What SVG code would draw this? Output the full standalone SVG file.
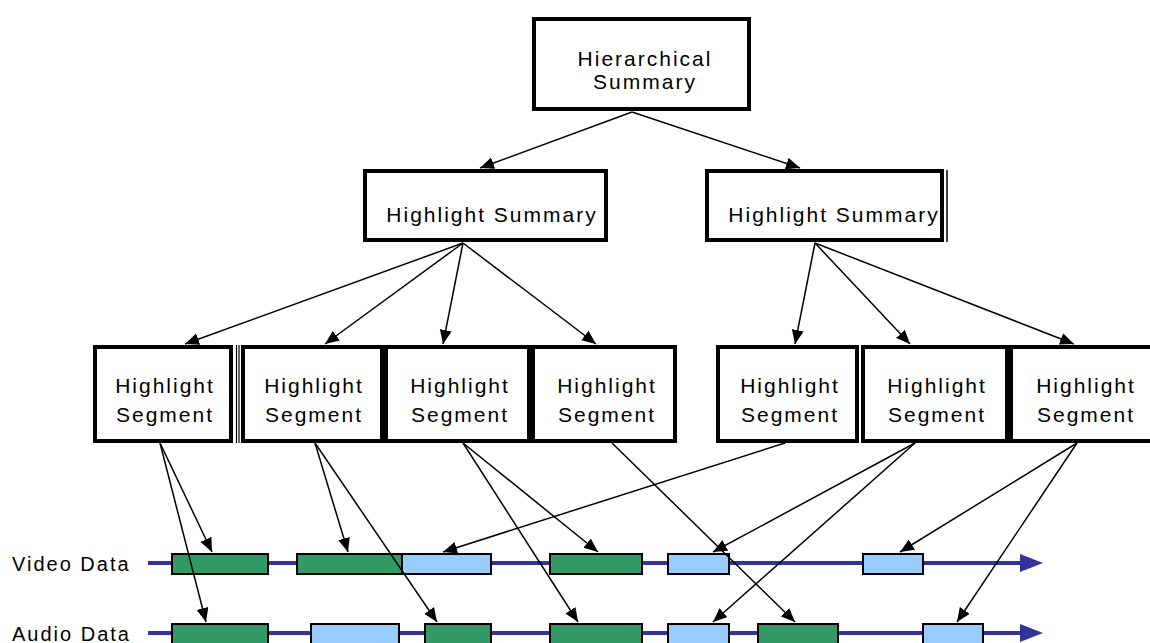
<svg xmlns="http://www.w3.org/2000/svg" width="1150" height="643" viewBox="0 0 1150 643">
  <defs>
    <marker id="ah" markerUnits="userSpaceOnUse" markerWidth="16" markerHeight="14" refX="14" refY="6" orient="auto">
      <path d="M0,0 L14,6 L0,12 Z" fill="#000"/>
    </marker>
    <style>
      .box { fill: #fff; stroke: #000; stroke-width: 4; }
      .lbl { font-family: "Liberation Sans", Arial, sans-serif; font-size: 21px; letter-spacing: 2px; fill: #000; text-anchor: middle; }
      .side { font-family: "Liberation Sans", Arial, sans-serif; font-size: 20px; letter-spacing: 2px; fill: #000; }
      .con { stroke: #000; stroke-width: 1.5; fill: none; marker-end: url(#ah); }
      .track { stroke: #333399; stroke-width: 4; }
      .tip { fill: #333399; }
      .g { fill: #339966; stroke: #000; stroke-width: 2; }
      .b { fill: #99ccff; stroke: #000; stroke-width: 2; }
    </style>
  </defs>
  <rect width="1150" height="643" fill="#fff"/>

  <!-- timelines -->
  <g id="tracks">
    <text class="side" x="12" y="571">Video Data</text>
    <line class="track" x1="148" y1="563" x2="1024" y2="563"/>
    <polygon class="tip" points="1020,554 1043,563 1020,572"/>
    <text class="side" x="12" y="641">Audio Data</text>
    <line class="track" x1="148" y1="633" x2="1024" y2="633"/>
    <polygon class="tip" points="1020,624 1043,633 1020,642"/>
  </g>

  <g id="video-blocks">
    <rect class="g" x="172" y="554" width="96" height="20"/>
    <rect class="g" x="297" y="554" width="105" height="20"/>
    <rect class="b" x="402" y="554" width="89" height="20"/>
    <rect class="g" x="550" y="554" width="92" height="20"/>
    <rect class="b" x="668" y="554" width="61" height="20"/>
    <rect class="b" x="863" y="554" width="60" height="20"/>
  </g>
  <g id="audio-blocks">
    <rect class="g" x="172" y="624" width="96" height="24"/>
    <rect class="b" x="311" y="624" width="88" height="24"/>
    <rect class="g" x="425" y="624" width="66" height="24"/>
    <rect class="g" x="550" y="624" width="92" height="24"/>
    <rect class="b" x="668" y="624" width="61" height="24"/>
    <rect class="g" x="758" y="624" width="80" height="24"/>
    <rect class="b" x="923" y="624" width="60" height="24"/>
  </g>

  <!-- nodes -->
  <g id="root">
    <rect class="box" x="534" y="19" width="215" height="90"/>
    <text class="lbl" x="645" y="66">Hierarchical</text>
    <text class="lbl" x="645" y="89">Summary</text>
  </g>
  <g id="summary-left">
    <rect class="box" x="365" y="171" width="241" height="69"/>
    <text class="lbl" x="492" y="222">Highlight Summary</text>
  </g>
  <g id="summary-right">
    <rect class="box" x="707" y="171" width="235" height="69"/>
    <line x1="947" y1="170" x2="947" y2="242" stroke="#000" stroke-width="1.5"/>
    <text class="lbl" x="834" y="222">Highlight Summary</text>
  </g>
  <g id="seg1">
    <rect class="box" x="95" y="347" width="136" height="94"/>
    <line x1="236.5" y1="345" x2="236.5" y2="443" stroke="#000" stroke-width="1.2"/>
    <line x1="239" y1="345" x2="239" y2="443" stroke="#000" stroke-width="1.2"/>
    <text class="lbl" x="165" y="393">Highlight</text>
    <text class="lbl" x="165" y="422">Segment</text>
  </g>
  <g id="seg2">
    <rect class="box" x="243" y="347" width="139" height="94"/>
    <text class="lbl" x="314" y="393">Highlight</text>
    <text class="lbl" x="314" y="422">Segment</text>
  </g>
  <g id="seg3">
    <rect class="box" x="386" y="347" width="143" height="94"/>
    <text class="lbl" x="460" y="393">Highlight</text>
    <text class="lbl" x="460" y="422">Segment</text>
  </g>
  <g id="seg4">
    <rect class="box" x="533" y="347" width="142" height="94"/>
    <text class="lbl" x="607" y="393">Highlight</text>
    <text class="lbl" x="607" y="422">Segment</text>
  </g>
  <g id="seg5">
    <rect class="box" x="718" y="347" width="139" height="94"/>
    <text class="lbl" x="790" y="393">Highlight</text>
    <text class="lbl" x="790" y="422">Segment</text>
  </g>
  <g id="seg6">
    <rect class="box" x="863" y="347" width="144" height="94"/>
    <text class="lbl" x="937" y="393">Highlight</text>
    <text class="lbl" x="937" y="422">Segment</text>
  </g>
  <g id="seg7">
    <rect class="box" x="1011" y="347" width="145" height="94"/>
    <text class="lbl" x="1086" y="393">Highlight</text>
    <text class="lbl" x="1086" y="422">Segment</text>
  </g>

  <!-- connectors -->
  <g id="connectors">
    <line class="con" x1="632" y1="112" x2="480" y2="168"/>
    <line class="con" x1="632" y1="112" x2="800" y2="168"/>

    <line class="con" x1="463" y1="243" x2="185" y2="344"/>
    <line class="con" x1="463" y1="243" x2="325" y2="344"/>
    <line class="con" x1="463" y1="243" x2="443" y2="344"/>
    <line class="con" x1="463" y1="243" x2="596" y2="344"/>

    <line class="con" x1="815" y1="243" x2="795" y2="344"/>
    <line class="con" x1="815" y1="243" x2="910" y2="344"/>
    <line class="con" x1="815" y1="243" x2="1074" y2="344"/>

    <line class="con" x1="160" y1="443" x2="212" y2="552"/>
    <line class="con" x1="160" y1="443" x2="206" y2="622"/>
    <line class="con" x1="315" y1="443" x2="348" y2="552"/>
    <line class="con" x1="315" y1="443" x2="437" y2="622"/>
    <line class="con" x1="463" y1="443" x2="598" y2="552"/>
    <line class="con" x1="463" y1="443" x2="578" y2="622"/>
    <line class="con" x1="612" y1="443" x2="795" y2="622"/>
    <line class="con" x1="785" y1="443" x2="443" y2="552"/>
    <line class="con" x1="915" y1="443" x2="713" y2="552"/>
    <line class="con" x1="915" y1="443" x2="713" y2="622"/>
    <line class="con" x1="1077" y1="443" x2="900" y2="552"/>
    <line class="con" x1="1077" y1="443" x2="957" y2="622"/>
  </g>
</svg>
